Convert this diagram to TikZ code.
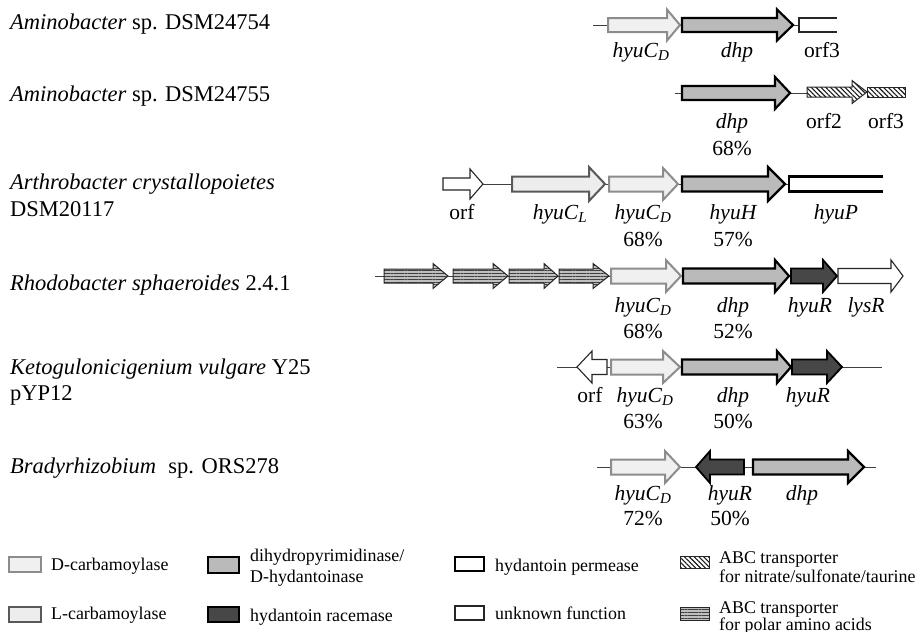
\documentclass[tikz,border=0pt]{standalone}
\usepackage{fontspec}
\setmainfont{Liberation Serif}
\usetikzlibrary{patterns,patterns.meta}
\tikzset{
 bb/.style={line width=1pt, draw=black!75},
 dcarb/.style={fill=black!6, draw=black!45, line width=2pt},
 lcarb/.style={fill=black!7, draw=black!65, line width=2pt},
 dhpst/.style={fill=black!27, draw=black, line width=2.2pt},
 rac/.style={fill=black!72, draw=black, line width=1.8pt},
 perm/.style={draw=black, line width=2.4pt},
 unk/.style={fill=white, draw=black!85, line width=1.1pt},
 nitr/.style={draw=black!85, line width=1pt, preaction={fill=white}, pattern={Lines[angle=-45,distance=3.4pt,line width=1.1pt]}, pattern color=black!90},
 polar/.style={draw=black!85, line width=1pt, preaction={fill=black!25}, pattern={Lines[angle=0,distance=2.8pt,line width=0.7pt]}, pattern color=black!75},
 lab/.style={anchor=base, inner sep=0pt, font=\fontsize{21.5}{26}\selectfont\itshape},
 pct/.style={anchor=base, inner sep=0pt, font=\fontsize{21.5}{26}\selectfont},
 org/.style={anchor=base west, inner sep=0pt, font=\fontsize{22.5}{27}\selectfont},
 leg/.style={anchor=base west, inner sep=0pt, font=\fontsize{17.9}{22}\selectfont},
}
% style, x-start, x-head-base, x-tip, y-centre, body half-height, head half-height
\newcommand{\genearrow}[7]{\draw[#1] (#2,#5-#6) -- (#3,#5-#6) -- (#3,#5-#7) -- (#4,#5) -- (#3,#5+#7) -- (#3,#5+#6) -- (#2,#5+#6) -- cycle;}
\begin{document}
\begin{tikzpicture}[x=1pt,y=-1pt]
\useasboundingbox (0,0) rectangle (919,632);

% ---------- organism names ----------
\node[org] (o1) at (10,29) {\textit{Aminobacter} sp. DSM24754};
\node[org] (o2) at (10,101) {\textit{Aminobacter} sp. DSM24755};
\node[org] (o3) at (10,189) {\textit{Arthrobacter crystallopoietes}};
\node[org] (o3b) at (10,216) {DSM20117};
\node[org] (o4) at (10,290) {\textit{Rhodobacter sphaeroides} 2.4.1};
\node[org] (o5) at (10,374) {\textit{Ketogulonicigenium vulgare} Y25};
\node[org] (o5b) at (10,400) {pYP12};
\node[org] (o6) at (10,473) {\textit{Bradyrhizobium}\hspace{0.3em} sp. ORS278};

% ---------- row 1 ----------
\draw[bb] (593,25) -- (799,25);
\genearrow{dcarb}{608}{667}{680}{25}{7}{15.5}
\genearrow{dhpst}{682}{777}{793}{25}{7}{15.5}
\fill[white] (799,18) rectangle (837,32);
\draw[unk] (837,18) -- (799,18) -- (799,32) -- (837,32);
\node[lab] (l1a) at (641,57) {hyuC\textsubscript{D}};
\node[lab] (l1b) at (737,57) {dhp};
\node[pct] (l1c) at (822,57) {orf3};

% ---------- row 2 ----------
\draw[bb] (675,93) -- (807,93);
\genearrow{dhpst}{682}{775}{790}{93}{7}{16}
\genearrow{nitr}{807}{852}{867}{92}{5}{11.5}
\draw[nitr] (867,87) rectangle (905,97);
\node[lab] (l2a) at (732,128) {dhp};
\node[pct] (l2b) at (824,128) {orf2};
\node[pct] (l2c) at (886,128) {orf3};
\node[pct] (p2a) at (732,155) {68\%};

% ---------- row 3 ----------
\draw[bb] (470,184) -- (790,184);
\genearrow{unk}{443}{470}{483}{184}{6}{15}
\genearrow{lcarb}{512}{589}{605}{184}{7.5}{17}
\genearrow{dcarb}{609}{663}{678}{184}{7.5}{16}
\genearrow{dhpst}{682}{768}{785}{184}{7.5}{17}
\fill[white] (789,176.5) rectangle (883,191.5);
\draw[perm] (883,176.5) -- (789,176.5) -- (789,191.5) -- (883,191.5);
\node[pct] (l3a) at (462,219) {orf};
\node[lab] (l3b) at (560,219) {hyuC\textsubscript{L}};
\node[lab] (l3c) at (643,219) {hyuC\textsubscript{D}};
\node[lab] (l3d) at (733,219) {hyuH};
\node[lab] (l3e) at (836,219) {hyuP};
\node[pct] (p3a) at (643,246) {68\%};
\node[pct] (p3b) at (733,246) {57\%};

% ---------- row 4 ----------
\draw[bb] (375,276) -- (610,276);
\genearrow{polar}{384}{433}{448}{276}{7}{12.5}
\genearrow{polar}{453}{493}{508}{276}{7}{12.5}
\genearrow{polar}{509}{544}{558}{276}{7}{12.5}
\genearrow{polar}{559}{593}{609}{276}{7}{12.5}
\genearrow{dcarb}{611}{666}{681}{276}{7.5}{16}
\genearrow{dhpst}{683}{775}{789}{276}{7.5}{16}
\genearrow{rac}{791}{823}{837}{276}{7.5}{16}
\genearrow{unk}{838}{891}{903}{276}{7.5}{16}
\node[lab] (l4a) at (643,312) {hyuC\textsubscript{D}};
\node[lab] (l4b) at (733,312) {dhp};
\node[lab] (l4c) at (810,312) {hyuR};
\node[lab] (l4d) at (866,312) {lysR};
\node[pct] (p4a) at (643,338) {68\%};
\node[pct] (p4b) at (733,338) {52\%};

% ---------- row 5 ----------
\draw[bb] (557,367) -- (882,367);
\genearrow{unk}{607}{592}{577}{367}{7.5}{16}
\genearrow{dcarb}{611}{663}{680}{367}{7.5}{16}
\genearrow{dhpst}{682}{777}{791}{367}{7.5}{16}
\genearrow{rac}{792}{827}{842}{367}{7.5}{16}
\node[pct] (l5a) at (590,402) {orf};
\node[lab] (l5b) at (645,402) {hyuC\textsubscript{D}};
\node[lab] (l5c) at (733,402) {dhp};
\node[lab] (l5d) at (808,402) {hyuR};
\node[pct] (p5a) at (643,428) {63\%};
\node[pct] (p5b) at (733,428) {50\%};

% ---------- row 6 ----------
\draw[bb] (597,467) -- (876,467);
\genearrow{dcarb}{611}{665}{680}{467}{7.5}{16}
\genearrow{rac}{744}{710}{696}{467}{7.5}{16}
\genearrow{dhpst}{753}{848}{864}{467}{7.5}{16}
\node[lab] (l6a) at (643,500) {hyuC\textsubscript{D}};
\node[lab] (l6b) at (730,500) {hyuR};
\node[lab] (l6c) at (802,500) {dhp};
\node[pct] (p6a) at (643,525) {72\%};
\node[pct] (p6b) at (730,525) {50\%};

% ---------- legend ----------
\draw[dcarb] (9,557) rectangle (41,572);
\node[leg] (t1) at (51,570) {D-carbamoylase};
\draw[lcarb] (9,607) rectangle (41,622);
\node[leg] (t2) at (51,619) {L-carbamoylase};
\draw[dhpst] (208,557) rectangle (239,573);
\node[leg] (t3) at (250,561) {dihydropyrimidinase/};
\node[leg] (t3b) at (250,582) {D-hydantoinase};
\draw[rac] (208,607) rectangle (239,622);
\node[leg] (t4) at (250,621) {hydantoin racemase};
\draw[perm] (455,557) rectangle (484,571);
\node[leg] (t5) at (495,571) {hydantoin permease};
\draw[unk] (455,606) rectangle (484,620);
\node[leg] (t6) at (495,619) {unknown function};
\draw[nitr] (680,556) rectangle (709,568);
\node[leg] (t7) at (719,563) {ABC transporter};
\node[leg] (t7b) at (719,582) {for nitrate/sulfonate/taurine};
\draw[polar] (680,607) rectangle (709,620);
\node[leg] (t8) at (719,613) {ABC transporter};
\node[leg] (t8b) at (719,630) {for polar amino acids};
\end{tikzpicture}
\end{document}
